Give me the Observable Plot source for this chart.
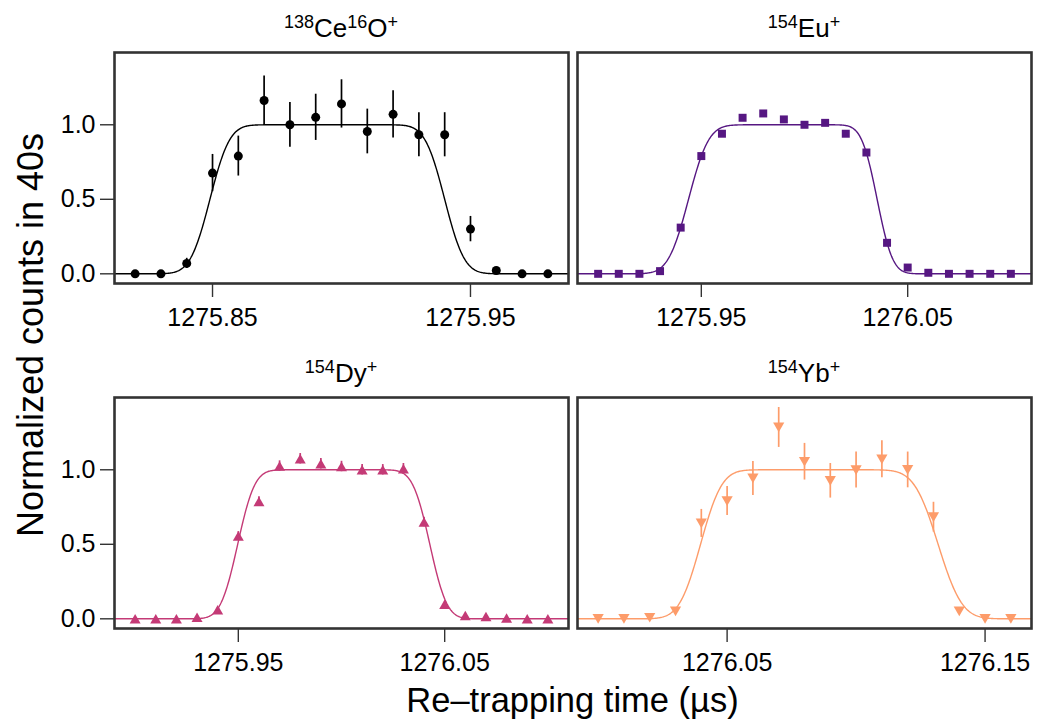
<!DOCTYPE html>
<html>
<head>
<meta charset="utf-8">
<script src="https://cdn.jsdelivr.net/npm/d3@7"></script>
<script src="https://cdn.jsdelivr.net/npm/@observablehq/plot@0.6"></script>
<style>
  body { margin: 0; background: #fff; }
  #wrap { position: relative; width: 1041px; height: 725px; overflow: hidden;
          font-family: "Liberation Sans", Arial, Helvetica, sans-serif; color: #000; }
  .panel { position: absolute; }
  .ptitle { position: absolute; width: 454px; text-align: center; font-size: 26px; line-height: 30px; white-space: nowrap; }
  .ptitle sup { font-size: 18px; line-height: 0; vertical-align: 0.5em; }
  .xtitle { position: absolute; left: 114px; width: 917px; text-align: center; font-size: 34.5px; line-height: 34px; white-space: nowrap; }
  .ytitle { position: absolute; left: 31px; top: 335px; font-size: 36px; line-height: 36px; white-space: nowrap;
            transform: translate(-50%, -50%) rotate(-90deg); }
</style>
</head>
<body>
<div id="wrap"></div>
<script>
// ---------- data ----------
// Panel 1: 138Ce16O+
const ceoX   = [1275.82, 1275.83, 1275.84, 1275.85, 1275.86, 1275.87, 1275.88, 1275.89, 1275.90, 1275.91, 1275.92, 1275.93, 1275.94, 1275.95, 1275.96, 1275.97, 1275.98];
const ceoY   = [0, 0, 0.07, 0.676, 0.79, 1.163, 1.0, 1.05, 1.14, 0.955, 1.07, 0.933, 0.933, 0.30, 0.022, 0, 0];
const ceoErr = [0, 0, 0.034, 0.125, 0.134, 0.165, 0.15, 0.155, 0.162, 0.15, 0.158, 0.148, 0.148, 0.085, 0.012, 0, 0];

// Panel 2: 154Eu+
const euX   = [1275.90, 1275.91, 1275.92, 1275.93, 1275.94, 1275.95, 1275.96, 1275.97, 1275.98, 1275.99, 1276.00, 1276.01, 1276.02, 1276.03, 1276.04, 1276.05, 1276.06, 1276.07, 1276.08, 1276.09, 1276.10];
const euY   = [0, 0, 0, 0.018, 0.31, 0.79, 0.94, 1.047, 1.076, 1.036, 1.0, 1.013, 0.94, 0.814, 0.208, 0.042, 0.007, 0, 0, 0, 0];
const euErr = [0, 0, 0, 0.01, 0.02, 0.02, 0.02, 0.02, 0.02, 0.02, 0.02, 0.02, 0.02, 0.02, 0.02, 0.01, 0.005, 0, 0, 0, 0];

// Panel 3: 154Dy+
const dyX   = [1275.90, 1275.91, 1275.92, 1275.93, 1275.94, 1275.95, 1275.96, 1275.97, 1275.98, 1275.99, 1276.00, 1276.01, 1276.02, 1276.03, 1276.04, 1276.05, 1276.06, 1276.07, 1276.08, 1276.09, 1276.10];
const dyY   = [0, 0, 0, 0.01, 0.06, 0.555, 0.787, 1.025, 1.074, 1.04, 1.022, 1.0, 1.0, 1.007, 0.649, 0.098, 0.022, 0.016, 0.005, 0, 0];
const dyErr = [0, 0, 0, 0.008, 0.015, 0.03, 0.032, 0.035, 0.035, 0.035, 0.035, 0.035, 0.035, 0.035, 0.032, 0.02, 0.01, 0.008, 0.005, 0, 0];

// Panel 4: 154Yb+
const ybX   = [1276.00, 1276.01, 1276.02, 1276.03, 1276.04, 1276.05, 1276.06, 1276.07, 1276.08, 1276.09, 1276.10, 1276.11, 1276.12, 1276.13, 1276.14, 1276.15, 1276.16];
const ybY   = [0, 0, 0.007, 0.05, 0.64, 0.79, 0.942, 1.284, 1.054, 0.926, 0.998, 1.07, 0.999, 0.682, 0.05, 0, 0];
const ybErr = [0, 0, 0.01, 0.02, 0.094, 0.097, 0.114, 0.134, 0.123, 0.116, 0.121, 0.124, 0.12, 0.1, 0.02, 0, 0];

// Fitted step-model parameters (edge centres and widths, µs)
const fitRise      = [1275.849, 1275.9438, 1275.9497, 1276.0397];
const fitFall      = [1275.940, 1276.0352, 1276.0428, 1276.1318];
const fitSigmaRise = [0.006, 0.0077, 0.0065, 0.0065];
const fitSigmaFall = [0.006, 0.0059, 0.0065, 0.0073];

// Labels / ticks
const titleMass   = [["138", "16"], ["154"], ["154"], ["154"]];
const titleElem   = [["Ce", "O"], ["Eu"], ["Dy"], ["Yb"]];
const xTicks      = [[1275.85, 1275.95], [1275.95, 1276.05], [1275.95, 1276.05], [1276.05, 1276.15]];
const yTicks      = [0, 0.5, 1.0];
const seriesColor = ["#000000", "#561782", "#c43a76", "#fd9c6a"];
const seriesShape = ["circle", "square", "triangleUp", "triangleDown"];
const xAxisTitle  = "Re–trapping time (µs)";
const yAxisTitle  = "Normalized counts in 40s";

// ---------- helpers ----------
function erf(x) {
  const s = Math.sign(x); x = Math.abs(x);
  const t = 1 / (1 + 0.3275911 * x);
  const y = 1 - (((((1.061405429 * t - 1.453152027) * t) + 1.421413741) * t - 0.284496736) * t + 0.254829592) * t * Math.exp(-x * x);
  return s * y;
}
const Phi = z => 0.5 * (1 + erf(z / Math.SQRT2));

const triUp = { draw(ctx, size) { const r = Math.sqrt(size / Math.PI); const w = 1.1 * r, h = 0.95 * r;
  ctx.moveTo(0, -h); ctx.lineTo(w, h); ctx.lineTo(-w, h); ctx.closePath(); } };
const triDown = { draw(ctx, size) { const r = Math.sqrt(size / Math.PI); const w = 1.1 * r, h = 0.95 * r;
  ctx.moveTo(0, h); ctx.lineTo(w, -h); ctx.lineTo(-w, -h); ctx.closePath(); } };
const symbols = { circle: "circle", square: "square", triangleUp: triUp, triangleDown: triDown };
const symbolR = { circle: 4.5, square: 4.5, triangleUp: 5.0, triangleDown: 5.1 };

const panels = [
  { xs: ceoX, ys: ceoY, es: ceoErr },
  { xs: euX,  ys: euY,  es: euErr },
  { xs: dyX,  ys: dyY,  es: dyErr },
  { xs: ybX,  ys: ybY,  es: ybErr }
];

// frame geometry
const FW = 454, FH = 231;
const frameLeft = [114, 577, 114, 577];
const frameTop  = [52, 52, 397, 397];
const showY     = [true, false, true, false];
const FONT = '"Liberation Sans", Arial, Helvetica, sans-serif';

const wrap = document.getElementById("wrap");

panels.forEach((p, i) => {
  const rows = p.xs.map((x, j) => ({ x, y: p.ys[j], e: p.es[j] }));
  const [x0, x1] = d3.extent(p.xs);
  const pad = (x1 - x0) * 0.05;
  const dom = [x0 - pad, x1 + pad];
  const curve = d3.range(0, 601).map(k => {
    const x = dom[0] + (dom[1] - dom[0]) * k / 600;
    return { x, y: Phi((x - fitRise[i]) / fitSigmaRise[i]) - Phi((x - fitFall[i]) / fitSigmaFall[i]) };
  });
  const color = seriesColor[i];
  const mL = showY[i] ? frameLeft[i] : 10, mT = 10, mR = 10, mB = 70;

  const chart = Plot.plot({
    width: mL + FW + mR, height: mT + FH + mB,
    marginLeft: mL, marginTop: mT, marginRight: mR, marginBottom: mB,
    style: { fontFamily: FONT, background: "none", overflow: "visible", color: "#000" },
    x: { domain: dom, axis: null },
    y: { domain: [-0.065, 1.485], axis: null },
    marks: [
      Plot.line(curve, { x: "x", y: "y", stroke: color, strokeWidth: 1.4 }),
      Plot.ruleX(rows.filter(d => d.e > 0), { x: "x", y1: d => d.y - d.e, y2: d => d.y + d.e, stroke: color, strokeWidth: 1.7 }),
      Plot.dot(rows, { x: "x", y: "y", symbol: symbols[seriesShape[i]], r: symbolR[seriesShape[i]], fill: color, stroke: "none" }),
      Plot.axisX({ ticks: xTicks[i], tickSize: 14, tickPadding: 11, tickFormat: d3.format(".2f"), fontSize: 25,
                   stroke: "#333", strokeWidth: 1.4, label: null }),
      showY[i] ? Plot.axisY({ ticks: yTicks, tickSize: 14, tickPadding: 5, tickFormat: d3.format(".1f"), fontSize: 25,
                   stroke: "#333", strokeWidth: 1.4, label: null }) : null,
      Plot.frame({ stroke: "#333", strokeWidth: 2.6 })
    ]
  });
  const holder = document.createElement("div");
  holder.className = "panel";
  holder.style.left = (frameLeft[i] - mL) + "px";
  holder.style.top = (frameTop[i] - mT) + "px";
  holder.appendChild(chart);
  wrap.appendChild(holder);

  const t = document.createElement("div");
  t.className = "ptitle";
  t.style.left = frameLeft[i] + "px";
  t.style.top = (frameTop[i] - 39) + "px";
  let html = "";
  titleElem[i].forEach((el, k) => { html += "<sup>" + titleMass[i][k] + "</sup>" + el; });
  html += "<sup>+</sup>";
  t.innerHTML = html;
  wrap.appendChild(t);
});

const xt = document.createElement("div");
xt.className = "xtitle"; xt.style.top = "683px"; xt.textContent = xAxisTitle;
wrap.appendChild(xt);
const yt = document.createElement("div");
yt.className = "ytitle"; yt.textContent = yAxisTitle;
wrap.appendChild(yt);
</script>
</body>
</html>
